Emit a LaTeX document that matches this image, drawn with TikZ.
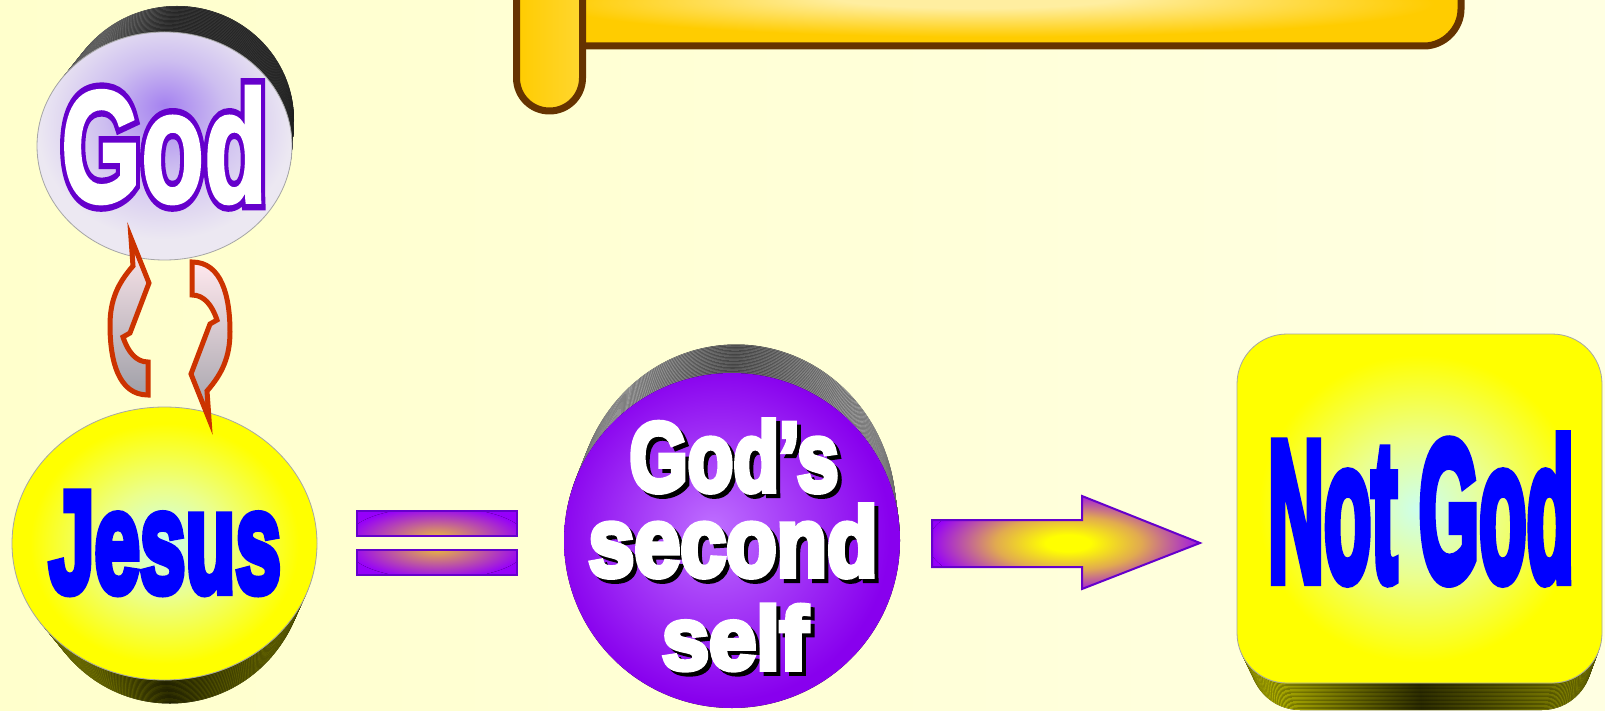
\documentclass[tikz,border=0pt]{standalone}
\usepackage{fontspec}
\newfontfamily\impA{Liberation Sans Bold}[FakeBold=2]
\newfontfamily\impB{Liberation Sans Bold}[FakeBold=6]
\newfontfamily\impC{Liberation Sans Bold}[FakeBold=10]
\definecolor{bgL}{RGB}{255,255,204}
\definecolor{bgR}{RGB}{255,255,226}
\definecolor{gold}{RGB}{255,204,0}
\definecolor{goldlight}{RGB}{255,238,160}
\definecolor{brownc}{RGB}{102,51,0}
\definecolor{violetc}{RGB}{102,0,204}
\definecolor{purp}{RGB}{150,0,250}
\definecolor{yel}{RGB}{255,255,0}
\definecolor{tanc}{RGB}{225,170,80}
\definecolor{bartan}{RGB}{232,182,64}
\definecolor{lightcyan}{RGB}{204,255,238}
\definecolor{paleyel}{RGB}{235,255,140}
\definecolor{lavc}{RGB}{165,130,240}
\definecolor{lavmid}{RGB}{205,190,240}
\definecolor{lavedge}{RGB}{236,232,242}
\definecolor{gsscenter}{RGB}{190,110,255}
\definecolor{gssedge}{RGB}{136,0,238}
\definecolor{redc}{RGB}{204,51,0}
\definecolor{pinkw}{RGB}{255,232,238}
\definecolor{grayarrow}{RGB}{160,160,168}
\definecolor{olivedark}{RGB}{45,45,0}
\definecolor{olivelight}{RGB}{200,200,0}
\pgfdeclareradialshading{yelface}{\pgfpoint{0bp}{0bp}}{color(0bp)=(lightcyan); color(10bp)=(paleyel); color(22bp)=(yel); color(25bp)=(yel); color(50bp)=(yel)}
\pgfdeclareradialshading{godface}{\pgfpoint{0bp}{9bp}}{color(0bp)=(lavc); color(12bp)=(lavmid); color(25bp)=(lavedge); color(50bp)=(lavedge)}
\pgfdeclareradialshading{gssface}{\pgfpoint{-3bp}{2bp}}{color(0bp)=(gsscenter); color(25bp)=(gssedge); color(50bp)=(gssedge)}
\pgfdeclareradialshading{arrowshade}{\pgfpoint{0bp}{0bp}}{color(0bp)=(yel); color(4bp)=(yel); color(13bp)=(tanc); color(25bp)=(purp); color(50bp)=(purp)}
\pgfdeclareradialshading{barshade}{\pgfpoint{0bp}{0bp}}{color(0bp)=(bartan); color(25bp)=(purp); color(50bp)=(purp)}
\pgfdeclareradialshading{bannershade}{\pgfpoint{-3bp}{14bp}}{color(0bp)=(goldlight); color(8bp)=(goldlight); color(25bp)=(gold); color(50bp)=(gold)}
\newcommand{\shadowword}[3]{\makebox[0pt][l]{\smash{\hspace*{2pt}\raisebox{-2pt}{\textcolor{black}{\impB\resizebox{#1}{#2}{#3}}}}}\textcolor{white}{\impB\resizebox{#1}{#2}{#3}}}
\newcommand{\outlineword}[3]{\makebox[0pt][l]{\textcolor{violetc}{\impC\resizebox{#1}{#2}{#3}}}\textcolor{white}{\impA\resizebox{#1}{#2}{#3}}}
\tikzset{
  brownline/.style={draw=brownc, line width=3.5pt, line join=round},
  violetline/.style={draw=violetc, line width=1pt},
  redarrow/.style={draw=redc, line width=2.5pt, line join=miter, top color=pinkw, bottom color=grayarrow},
  facerim/.style={draw=gray!70, line width=0.4pt},
  wordnode/.style={inner sep=0pt, outer sep=0pt},
}
\begin{document}
\begin{tikzpicture}[x=0.5pt,y=-0.5pt]
\useasboundingbox (0,0) rectangle (1605,711);
\fill[left color=bgL, right color=bgR] (0,0) rectangle (1605,711);

% banner
\fill[shading=bannershade] (582,-20) -- (582,46) -- (1424,46) .. controls (1444,46) and (1461,29) .. (1461,9) -- (1461,-20) -- cycle;
\draw[brownline] (582,46) -- (1424,46) .. controls (1444,46) and (1461,29) .. (1461,9) -- (1461,-20);
\draw[brownline, left color=gold, right color=gold!70!goldlight] (516.5,-20) -- (516.5,78) .. controls (516.5,96) and (531,111) .. (549.5,111) .. controls (568,111) and (582.5,96) .. (582.5,78) -- (582.5,-20);

% God disc
\foreach \i in {0,...,19}{
  \pgfmathsetmacro\t{\i/20}
  \fill[left color=gray!60, right color=gray!40!black, middle color=black!80] ({177-12.5*\t},{120+26*\t}) ellipse [x radius={117+10.5*\t}, y radius=114];
}
\draw[facerim, shading=godface] (164.5,146) ellipse [x radius=127.5, y radius=114];
\node[wordnode] (godtxt) at (164,145) {\outlineword{103pt}{58pt}{God}};

% Jesus disc
\foreach \i in {0,...,19}{
  \pgfmathsetmacro\t{\i/20}
  \fill[left color=olivelight, right color=olivelight!70!black, middle color=olivedark] ({170-5.5*\t},{567-23.5*\t}) ellipse [x radius={135+17.5*\t}, y radius=136.5];
}
\draw[facerim, shading=yelface] (164.5,543.5) ellipse [x radius=152.5, y radius=136.5];
\node[wordnode] (jesustxt) at (165,543) {\textcolor{blue}{\impB\resizebox{116pt}{49.5pt}{Jesus}}};

% curved arrows
\draw[redarrow] (131,238) -- (149,283) -- (130,333) -- (123,337) .. controls (128,352) and (136,362) .. (148,362) -- (148,395) .. controls (118,395) and (110,360) .. (110,325) .. controls (110,300) and (118,283) .. (133,266) -- cycle;
\begin{scope}[rotate around={180:(170,328.5)}]
\draw[redarrow] (131,238) -- (149,283) -- (130,333) -- (123,337) .. controls (128,352) and (136,362) .. (148,362) -- (148,395) .. controls (118,395) and (110,360) .. (110,325) .. controls (110,300) and (118,283) .. (133,266) -- cycle;
\end{scope}

% equals sign
\fill[purp] (357,511) rectangle (517,536);
\begin{scope}
\clip (357,511) rectangle (517,536);
\fill[shading=barshade] (437,537) ellipse [x radius=88, y radius=30];
\end{scope}
\draw[violetline] (357,511) rectangle (517,536);
\fill[purp] (357,550) rectangle (517,575);
\begin{scope}
\clip (357,550) rectangle (517,575);
\fill[shading=barshade] (437,549) ellipse [x radius=88, y radius=30];
\end{scope}
\draw[violetline] (357,550) rectangle (517,575);

% God's second self disc
\foreach \i in {0,...,19}{
  \pgfmathsetmacro\t{\i/20}
  \fill[left color=gray!35, right color=gray!55, middle color=black!65] ({736-4*\t},{512+28.5*\t}) ellipse [x radius={160+8*\t}, y radius=167.5];
}
\fill[shading=gssface] (732,540.5) ellipse [x radius=168, y radius=167.5];
\node[wordnode, anchor=south] (gss1) at (734,492) {\shadowword{104.5pt}{35.5pt}{God’s}};
\node[wordnode, anchor=south] (gss2) at (733,577) {\shadowword{144.5pt}{35.5pt}{second}};
\node[wordnode, anchor=south] (gss3) at (735,670) {\shadowword{73pt}{32pt}{self}};

% block arrow
\fill[purp] (932,520) -- (1082,520) -- (1082,496) -- (1200,543) -- (1082,589) -- (1082,567) -- (932,567) -- cycle;
\begin{scope}
\clip (932,520) -- (1082,520) -- (1082,496) -- (1200,543) -- (1082,589) -- (1082,567) -- (932,567) -- cycle;
\fill[shading=arrowshade] (1068,543) ellipse [x radius=140, y radius=52];
\end{scope}
\draw[violetline, line join=miter] (932,520) -- (1082,520) -- (1082,496) -- (1200,543) -- (1082,589) -- (1082,567) -- (932,567) -- cycle;

% Not God box
\foreach \i in {0,...,19}{
  \pgfmathsetmacro\t{\i/20}
  \fill[rounded corners=25pt, left color=olivelight, right color=olivelight!70!black, middle color=olivedark] ({1250-13*\t},{361-27*\t}) rectangle ({1592+10*\t},{710-27*\t});
}
\draw[facerim, rounded corners=25pt, shading=yelface] (1237,334) rectangle (1602,683);
\node[wordnode] (notgodtxt) at (1421,509) {\textcolor{blue}{\impB\resizebox{153pt}{72pt}{Not God}}};
\end{tikzpicture}
\end{document}
